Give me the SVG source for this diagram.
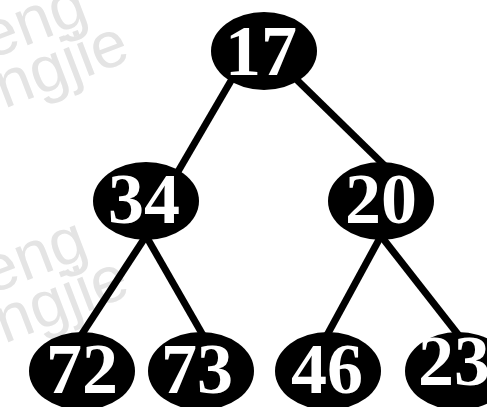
<svg xmlns="http://www.w3.org/2000/svg" width="487" height="407" viewBox="0 0 487 407">
<style>
.wm{font-family:"Liberation Sans",Arial,sans-serif;font-size:65px;fill:#e4e4e4}
.edge{stroke:#000;stroke-width:7;fill:none}
.node ellipse{fill:#000}
.node text{font-family:"Liberation Serif","Times New Roman",serif;font-weight:bold;font-size:72px;fill:#fff;text-anchor:middle}
</style>
<rect width="487" height="407" fill="#fff"/>
<g id="watermark">
<g transform="translate(0,0) rotate(-21)">
<text class="wm" x="-31" y="52">eng</text>
<text class="wm" x="-35" y="103">ngjie</text>
</g>
<g transform="translate(0,235) rotate(-21)">
<text class="wm" x="-31" y="52">eng</text>
<text class="wm" x="-35" y="103">ngjie</text>
</g>
</g>
<g id="connectors">
<line class="edge" x1="232" y1="79" x2="176" y2="175"/>
<line class="edge" x1="297" y1="80" x2="385" y2="166"/>
<line class="edge" x1="146" y1="236" x2="80" y2="337"/>
<line class="edge" x1="146" y1="236" x2="204" y2="337"/>
<line class="edge" x1="381" y1="236" x2="326" y2="337"/>
<line class="edge" x1="381" y1="236" x2="460" y2="337"/>
</g>
<g id="n17" class="node"><ellipse cx="264" cy="51" rx="53" ry="39"/><text x="261" y="75">17</text></g>
<g id="n34" class="node"><ellipse cx="146" cy="201" rx="53" ry="39"/><text x="144" y="223">34</text></g>
<g id="n20" class="node"><ellipse cx="381" cy="201" rx="53" ry="39"/><text x="381" y="223">20</text></g>
<g id="n72" class="node"><ellipse cx="82" cy="371" rx="53" ry="39"/><text x="82" y="393">72</text></g>
<g id="n73" class="node"><ellipse cx="201" cy="371" rx="53" ry="39"/><text x="197" y="393">73</text></g>
<g id="n46" class="node"><ellipse cx="328" cy="371" rx="53" ry="39"/><text x="327" y="393">46</text></g>
<g id="n23" class="node"><ellipse cx="458" cy="371" rx="53" ry="39"/><text x="454" y="385">23</text></g>
</svg>
